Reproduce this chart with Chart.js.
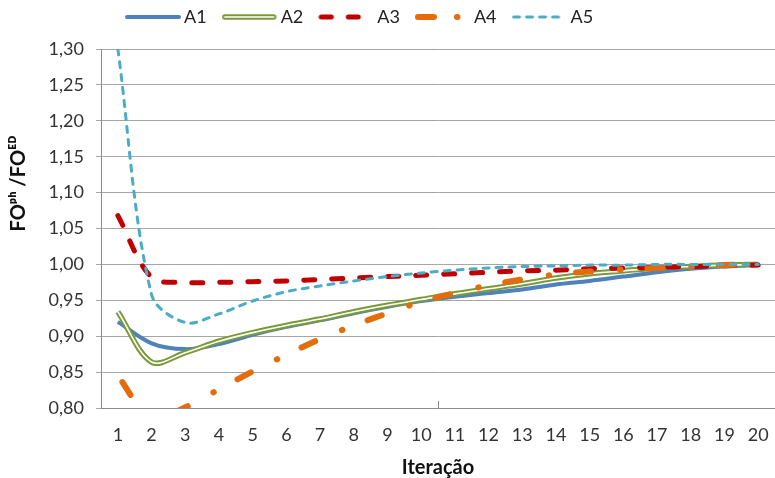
<!DOCTYPE html>
<html>
<head>
<meta charset="utf-8">
<script src="https://cdn.jsdelivr.net/npm/chart.js@4.4.1/dist/chart.umd.min.js"></script>
<style>
  html, body { margin: 0; padding: 0; background: #ffffff; }
  #wrap { width: 775px; height: 478px; }
</style>
</head>
<body>
<div id="wrap"><canvas id="c" width="775" height="478"></canvas></div>
<script>
// ---- data ----
const categories = ['1','2','3','4','5','6','7','8','9','10','11','12','13','14','15','16','17','18','19','20'];
const seriesNames = ['A1', 'A2', 'A3', 'A4', 'A5'];
const A1 = [0.920, 0.890, 0.882, 0.889, 0.902, 0.913, 0.922, 0.932, 0.941, 0.949, 0.955, 0.960, 0.965, 0.972, 0.977, 0.983, 0.989, 0.994, 0.997, 0.999];
const A2 = [0.934, 0.864, 0.877, 0.893, 0.905, 0.915, 0.924, 0.934, 0.943, 0.951, 0.959, 0.966, 0.973, 0.981, 0.987, 0.991, 0.995, 0.997, 0.999, 1.000];
const A3 = [1.068, 0.982, 0.975, 0.975, 0.976, 0.977, 0.979, 0.981, 0.983, 0.985, 0.987, 0.989, 0.991, 0.992, 0.994, 0.995, 0.996, 0.997, 0.998, 0.999];
const A4 = [0.845, 0.785, 0.801, 0.826, 0.851, 0.874, 0.896, 0.915, 0.932, 0.948, 0.960, 0.971, 0.979, 0.986, 0.990, 0.993, 0.995, 0.997, 0.999, 1.000];
const A5 = [1.300, 0.958, 0.919, 0.931, 0.949, 0.962, 0.970, 0.977, 0.983, 0.988, 0.992, 0.995, 0.997, 0.998, 0.999, 0.999, 1.000, 1.000, 1.000, 1.000];
const yMin = 0.80, yMax = 1.30, yStep = 0.05;
const xTitle = 'Iteração';
const yTitle = 'FOᵖʰ /FOᴱᴰ';

// ---- styles ----
const FONT = 'Lato, "Open Sans", "DejaVu Sans", sans-serif';
Chart.defaults.font.family = FONT;
Chart.defaults.color = '#333333';

const COLORS = ['#4F81BD', '#7A9A3A', '#C00000', '#E46C0A', '#4BACC6'];

// legend symbols (line samples) drawn on small canvases
function makeIcon(draw) {
  const c = document.createElement('canvas');
  c.width = 56; c.height = 10;
  const g = c.getContext('2d');
  g.lineCap = 'round';
  draw(g);
  return c;
}
const icons = [
  makeIcon(g => { g.strokeStyle = COLORS[0]; g.lineWidth = 4; g.beginPath(); g.moveTo(2, 5); g.lineTo(54, 5); g.stroke(); }),
  makeIcon(g => {
    g.strokeStyle = COLORS[1]; g.lineWidth = 5.5; g.beginPath(); g.moveTo(3, 5); g.lineTo(52, 5); g.stroke();
    g.strokeStyle = '#ffffff'; g.lineWidth = 1.6; g.beginPath(); g.moveTo(3, 5); g.lineTo(52, 5); g.stroke();
  }),
  makeIcon(g => { g.strokeStyle = COLORS[2]; g.lineWidth = 5; g.setLineDash([10, 17]); g.beginPath(); g.moveTo(3, 5); g.lineTo(43, 5); g.stroke(); }),
  makeIcon(g => { g.strokeStyle = COLORS[3]; g.lineWidth = 6; g.setLineDash([16, 23, 0.5, 40]); g.beginPath(); g.moveTo(3, 5); g.lineTo(50, 5); g.stroke(); }),
  makeIcon(g => { g.strokeStyle = COLORS[4]; g.lineWidth = 3; g.setLineDash([6, 7]); g.beginPath(); g.moveTo(2, 5); g.lineTo(54, 5); g.stroke(); })
];

const common = { fill: false, pointRadius: 0, pointHoverRadius: 0, clip: 0, tension: 0.33 };

const datasets = [
  Object.assign({ label: seriesNames[0], data: A1, borderColor: COLORS[0], borderWidth: 4, order: 6 }, common),
  Object.assign({ label: seriesNames[1], data: A2, borderColor: COLORS[1], borderWidth: 5.5, order: 5 }, common),
  Object.assign({ label: '', data: A2, borderColor: '#ffffff', borderWidth: 1.6, order: 4 }, common),
  Object.assign({ label: seriesNames[2], data: A3, borderColor: COLORS[2], borderWidth: 5, borderDash: [11, 17], borderCapStyle: 'round', order: 3 }, common),
  Object.assign({ label: seriesNames[3], data: A4, borderColor: COLORS[3], borderWidth: 6, borderDash: [15, 29, 0.5, 27], borderDashOffset: -8, borderCapStyle: 'round', order: 2 }, common),
  Object.assign({ label: seriesNames[4], data: A5, borderColor: COLORS[4], borderWidth: 3, borderDash: [6, 7], borderCapStyle: 'round', order: 1 }, common)
];

const LEGEND_PAD = 21;
const tweak = {
  id: 'tweak',
  afterLayout(chart) {
    const lg = chart.legend;
    if (lg) {
      lg.top = 17 - 9 - LEGEND_PAD;
      lg.left = 131 - LEGEND_PAD;
    }
  },
  afterDraw(chart) {
    const xs = chart.scales.x;
    const a = chart.chartArea;
    const ctx = chart.ctx;
    const x = Math.round((xs.getPixelForValue(9) + xs.getPixelForValue(10)) / 2) + 0.5;
    ctx.save();
    ctx.strokeStyle = '#8c8c8c';
    ctx.lineWidth = 1;
    ctx.beginPath();
    ctx.moveTo(x, a.bottom);
    ctx.lineTo(x, a.bottom - 7);
    ctx.stroke();
    ctx.restore();
  }
};

new Chart(document.getElementById('c'), {
  type: 'line',
  data: { labels: categories, datasets: datasets },
  plugins: [tweak],
  options: {
    responsive: false,
    animation: false,
    events: [],
    layout: { padding: { left: 0, right: -2, top: 0, bottom: 0 } },
    elements: { line: { capBezierPoints: false } },
    plugins: {
      tooltip: { enabled: false },
      legend: {
        position: 'top',
        align: 'start',
        labels: {
          usePointStyle: true,
          pointStyle: 'line',
          pointStyleWidth: 44,
          padding: LEGEND_PAD,
          color: '#222222',
          font: { size: 18 },
          generateLabels(chart) {
            const items = Chart.defaults.plugins.legend.labels.generateLabels(chart);
            return items
              .filter(it => it.text)
              .sort((a, b) => a.datasetIndex - b.datasetIndex)
              .map(it => { it.pointStyle = icons[seriesNames.indexOf(it.text)]; return it; });
          }
        }
      }
    },
    scales: {
      x: {
        type: 'category',
        offset: true,
        grid: { display: true, drawOnChartArea: false, drawTicks: true, tickLength: 16, color: 'rgba(0,0,0,0)' },
        border: { display: true, color: '#8c8c8c', width: 1 },
        ticks: { font: { size: 18 }, color: '#333333', padding: 0, autoSkip: false, maxRotation: 0 },
        title: { display: true, text: xTitle, color: '#111111', font: { size: 20, weight: 'bold', lineHeight: 1 }, padding: { top: 0, bottom: 0 } },
        afterFit(s) { s.height = 70; }
      },
      y: {
        min: yMin,
        max: yMax,
        ticks: {
          stepSize: yStep,
          font: { size: 18 },
          color: '#333333',
          padding: 12,
          callback: v => v.toFixed(2).replace('.', ',')
        },
        grid: { color: '#a6a6a6', lineWidth: 1, drawTicks: true, tickLength: 5 },
        border: { display: true, color: '#8c8c8c', width: 1 },
        title: { display: true, text: '\u2003\u2003\u2003\u2003\u2003\u2003' + yTitle, color: '#111111', font: { size: 20, weight: 'bold', lineHeight: 1.2 }, padding: { top: 7, bottom: 0 } },
        afterFit(s) { s.width = 101; }
      }
    }
  }
});
</script>
</body>
</html>
